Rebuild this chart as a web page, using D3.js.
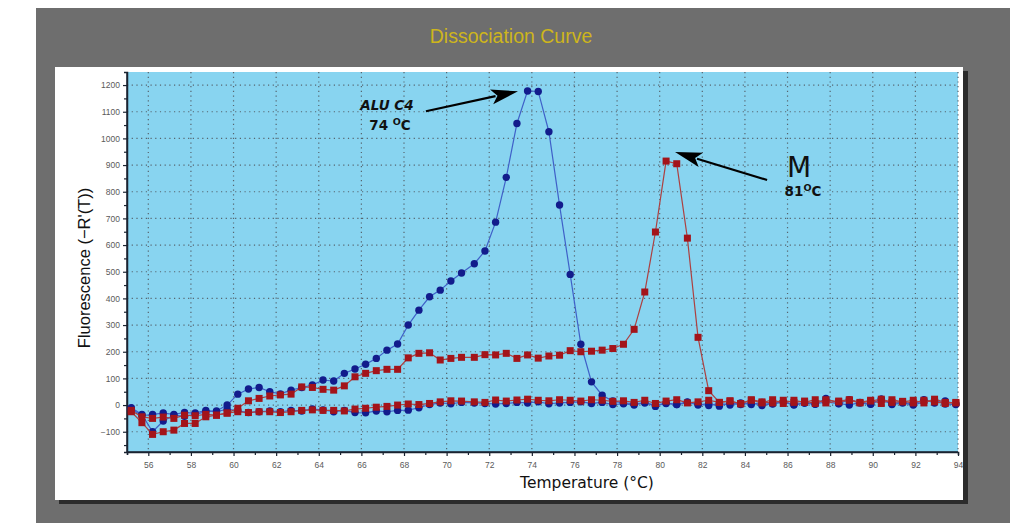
<!DOCTYPE html>
<html><head><meta charset="utf-8">
<script src="https://cdn.jsdelivr.net/npm/d3@7"></script>
<style>body{margin:0;background:#fff}svg{display:block}</style>
</head><body>
<svg id="c" width="1012" height="523"></svg>
<script>
const temps = [55.2,55.7,56.2,56.7,57.2,57.7,58.2,58.7,59.2,59.7,
  60.2,60.7,61.2,61.7,62.2,62.7,63.2,63.7,64.2,64.7,
  65.2,65.7,66.2,66.7,67.2,67.7,68.2,68.7,69.2,69.7,
  70.2,70.7,71.3,71.8,72.3,72.8,73.3,73.8,74.3,74.8,
  75.3,75.8,76.3,76.8,77.3,77.8,78.3,78.8,79.3,79.8,
  80.3,80.8,81.3,81.8,82.3,82.8,83.3,83.8,84.3,84.8,
  85.3,85.8,86.3,86.8,87.3,87.8,88.4,88.9,89.4,89.9,
  90.4,90.9,91.4,91.9,92.4,92.9,93.4,93.9];
const aluC4 = [-10,-35,-100,-60,-38,-42,-35,-25,-22,0,
  41,60,66,50,42,56,66,75,94,90,
  119,135,153,175,206,229,300,356,406,431,
  465,495,530,578,686,854,1056,1178,1176,1025,
  750,490,228,87,37,15,8,5,8,0,
  6,2,10,4,-2,6,0,8,2,10,
  4,12,2,8,4,12,5,20,8,3,
  22,6,10,3,20,8,15,5];
const mPeak = [-25,-66,-110,-100,-94,-69,-69,-44,-38,-30,
  -12,16,25,34,38,41,68,66,59,56,
  72,106,119,129,134,134,177,194,196,169,
  175,179,179,189,188,194,175,188,176,184,
  187,204,200,202,206,212,228,284,424,649,
  915,905,626,254,54,10,15,5,18,8,
  20,6,18,10,20,8,15,20,10,18,
  6,20,12,18,8,22,10,8];
const redBase = [-20,-44,-50,-45,-50,-38,-40,-35,-38,-30,
  -25,-28,-25,-25,-28,-25,-20,-18,-20,-20,
  -22,-15,-12,-8,-5,0,4,2,6,12,
  16,15,12,10,19,15,19,22,18,16,
  20,18,15,20,18,14,16,10,18,6,
  15,20,8,12,18,10,16,5,20,12,
  8,18,10,15,6,20,12,18,8,15,
  22,10,14,8,18,12,6,10];
const blueBase = [-15,-40,-35,-30,-35,-28,-30,-20,-25,-15,
  -22,-28,-25,-22,-25,-20,-22,-15,-18,-25,
  -20,-28,-29,-22,-25,-20,-19,-10,2,8,
  5,10,8,6,4,6,10,8,12,5,
  8,10,12,6,10,2,5,0,10,-5,
  8,2,12,0,6,-4,8,2,10,-2,
  6,12,0,8,3,25,6,0,10,4,
  22,2,8,0,12,18,4,2];
const xMajor = [56,58,60,62,64,66,68,70,72,74,76,78,80,82,84,86,88,90,92,94];
const xMinor = [55,57,59,61,63,65,67,69,71,73,75,77,79,81,83,85,87,89,91,93];
const yMajor = [-100,0,100,200,300,400,500,600,700,800,900,1000,1100,1200];
const yMinor = [-150,-50,50,150,250,350,450,550,650,750,850,950,1050,1150];
const titleText = "Dissociation Curve";
const xTitle = "Temperature (\u00B0C)";
const yTitle = "Fluorescence (\u2212R'(T))";

const svg = d3.select("#c");
const L = 127, R = 958, T = 72, B = 452;
const x = d3.scaleLinear().domain([55, 94]).range([L, R]);
const y = d3.scaleLinear().domain([-176, 1249]).range([B, T]);

// frame
svg.append("rect").attr("x",36).attr("y",8).attr("width",974).attr("height",515).attr("fill","#6e6e6e");
svg.append("rect").attr("x",59).attr("y",71).attr("width",909).attr("height",433).attr("fill","#2c2c2c");
svg.append("rect").attr("x",55).attr("y",67).attr("width",908).attr("height",433).attr("fill","#ffffff");
svg.append("rect").attr("x",L).attr("y",T).attr("width",R-L).attr("height",B-T).attr("fill","#88d4f0");

svg.append("text").attr("x",511).attr("y",43).attr("text-anchor","middle")
  .attr("font-family","Liberation Sans, Arial, sans-serif").attr("font-size",19.5)
  .attr("fill","#cdb51c").text(titleText);

// grid
const grid = svg.append("g").attr("stroke","#56656f").attr("stroke-width",1.2).attr("stroke-dasharray","1.2,3.5");
grid.selectAll("line.v").data(xMajor).join("line").attr("class","v")
  .attr("x1",d=>x(d)).attr("x2",d=>x(d)).attr("y1",T).attr("y2",B);
grid.selectAll("line.h").data(yMajor).join("line").attr("class","h")
  .attr("x1",L).attr("x2",R).attr("y1",d=>y(d)).attr("y2",d=>y(d));

// axes
const fmt = d => String(d).replace("-", "\u2212");
const ax = svg.append("g").attr("transform",`translate(0,${B})`)
  .call(d3.axisBottom(x).tickValues(xMajor).tickSize(4).tickPadding(6).tickFormat(d3.format("d")));
ax.append("g").call(d3.axisBottom(x).tickValues(xMinor).tickSize(3).tickFormat(""));
const ay = svg.append("g").attr("transform",`translate(${L},0)`)
  .call(d3.axisLeft(y).tickValues(yMajor).tickSize(4).tickPadding(3).tickFormat(fmt));
ay.append("g").call(d3.axisLeft(y).tickValues(yMinor).tickSize(3).tickFormat(""));
[ax, ay].forEach(g => {
  g.selectAll(".domain").attr("stroke","#1a2330").attr("stroke-width",1.5);
  g.selectAll(".tick line").attr("stroke","#1a2330").attr("stroke-width",1.2);
  g.selectAll("text").attr("font-family","Liberation Sans, Arial, sans-serif").attr("font-size",8.5).attr("fill","#5a5a5a");
});
ay.select(".domain").attr("d",`M0,${B}V${T}`);
ax.select(".domain").attr("d",`M${L},0H${R}`);

svg.append("text").attr("x",587).attr("y",488).attr("text-anchor","middle")
  .attr("font-family","DejaVu Sans, Verdana, sans-serif").attr("font-size",15.5).attr("fill","#111").text(xTitle);
svg.append("text").attr("transform","translate(90,268) rotate(-90)").attr("text-anchor","middle")
  .attr("font-family","Liberation Sans, Arial, sans-serif").attr("font-size",16.5).attr("fill","#111").text(yTitle);

// series
const series = [
  {vals: blueBase, line:"#3f60c8", fill:"#121c8c", shape:"c"},
  {vals: aluC4, line:"#3f60c8", fill:"#121c8c", shape:"c"},
  {vals: redBase, line:"#ad4040", fill:"#a3141a", shape:"s"},
  {vals: mPeak, line:"#ad4040", fill:"#a3141a", shape:"s"}
];
const lineGen = d3.line().x(d=>x(d[0])).y(d=>y(d[1]));
const plot = svg.append("g");
series.forEach(s => {
  const pts = temps.map((t,i)=>[t, s.vals[i]]);
  plot.append("path").datum(pts).attr("d",lineGen).attr("fill","none").attr("stroke",s.line).attr("stroke-width",1.2);
  if (s.shape === "c") {
    plot.append("g").selectAll("circle").data(pts).join("circle")
      .attr("cx",d=>x(d[0])).attr("cy",d=>y(d[1])).attr("r",3.7).attr("fill",s.fill);
  } else {
    plot.append("g").selectAll("rect").data(pts).join("rect")
      .attr("x",d=>x(d[0])-3.5).attr("y",d=>y(d[1])-3.5).attr("width",7).attr("height",7).attr("fill",s.fill);
  }
});

// annotations
function arrow(t0, v0, t1, v1) {
  const x0 = x(t0), y0 = y(v0), x1 = x(t1), y1 = y(v1);
  const dx = x1 - x0, dy = y1 - y0, len = Math.hypot(dx, dy), ux = dx/len, uy = dy/len;
  const hl = 27, hw = 7.5;
  const bx = x1 - ux*hl, by = y1 - uy*hl;
  svg.append("line").attr("x1",x0).attr("y1",y0).attr("x2",bx+ux*4).attr("y2",by+uy*4)
    .attr("stroke","#000").attr("stroke-width",2.2);
  svg.append("path").attr("d",`M${x1},${y1}L${bx-uy*hw},${by+ux*hw}L${bx+ux*6},${by+uy*6}L${bx+uy*hw},${by-ux*hw}Z`).attr("fill","#000");
}
arrow(69.03, 1102, 73.35, 1177);
arrow(85.04, 844, 80.72, 949);

const bold = "DejaVu Sans, Verdana, sans-serif";
svg.append("text").attr("x",387).attr("y",110).attr("text-anchor","middle").attr("font-family",bold)
  .attr("font-weight","bold").attr("font-style","italic").attr("font-size",13.5).attr("fill","#111").text("ALU C4");
const t1 = svg.append("text").attr("x",390).attr("y",130).attr("text-anchor","middle").attr("font-family",bold)
  .attr("font-weight","bold").attr("font-size",13.5).attr("fill","#111");
t1.append("tspan").text("74 ");
t1.append("tspan").attr("font-size",9.5).attr("dy",-5).text("O");
t1.append("tspan").attr("dy",5).text("C");
svg.append("text").attr("x",799).attr("y",177).attr("text-anchor","middle").attr("font-family",bold)
  .attr("font-size",28).attr("fill","#111").text("M");
const t2 = svg.append("text").attr("x",803).attr("y",196).attr("text-anchor","middle").attr("font-family",bold)
  .attr("font-weight","bold").attr("font-size",13.5).attr("fill","#111");
t2.append("tspan").text("81");
t2.append("tspan").attr("font-size",9.5).attr("dy",-5).text("O");
t2.append("tspan").attr("dy",5).text("C");
</script>
</body></html>
